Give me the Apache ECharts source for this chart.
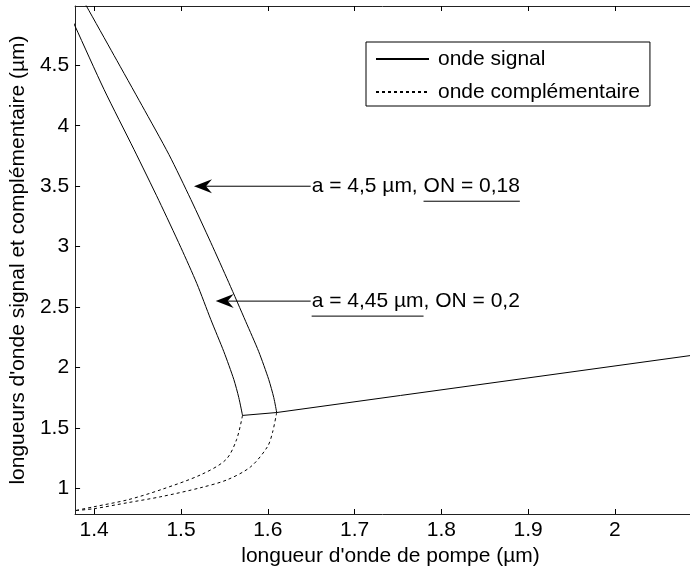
<!DOCTYPE html>
<html><head><meta charset="utf-8">
<script src="https://cdn.jsdelivr.net/npm/echarts@6/dist/echarts.min.js"></script>
<style>html,body{margin:0;padding:0;background:#fff}#c{width:690px;height:572px}</style>
</head><body><div id="c"></div>
<script>
// ---- data ----
const xTicks = [1.4, 1.5, 1.6, 1.7, 1.8, 1.9, 2.0];
const yTicks = [1, 1.5, 2, 2.5, 3, 3.5, 4, 4.5];
const signalA = [[1.3885,5.02],[1.3907,4.994],[1.4229,4.581],[1.4551,4.167],[1.4861,3.762],[1.5114,3.390],[1.5344,3.034],[1.5551,2.703],[1.5747,2.380],[1.5896,2.132],[1.6011,1.902],[1.6069,1.753],[1.6103,1.629]];
const signalB = [[1.3757,4.859],[1.378,4.823],[1.4114,4.299],[1.4459,3.803],[1.4746,3.381],[1.4999,2.993],[1.5183,2.695],[1.5344,2.397],[1.5494,2.132],[1.5609,1.902],[1.5666,1.753],[1.5709,1.605]];
const signalTail = [[1.5709,1.605],[1.6103,1.629],[1.753,1.770],[2.09,2.103]];
const idlerA = [[1.6103,1.629],[1.6054,1.462],[1.5997,1.347],[1.5804,1.181],[1.5536,1.074],[1.523,1.008],[1.4769,0.933],[1.439,0.884],[1.3998,0.834],[1.378,0.818]];
const idlerB = [[1.5709,1.605],[1.564,1.404],[1.5517,1.239],[1.523,1.115],[1.4769,0.991],[1.439,0.908],[1.3998,0.850],[1.378,0.818]];
const annotTexts = ['a = 4,5 µm, ON = 0,18', 'a = 4,45 µm, ON = 0,2'];
const arrowTips = [[1.515, 3.50], [1.540, 2.55]];
const arrowTailX = 1.6494;
const underlineRanges = [[12, 21], [0, 11]];
const xName = "longueur d'onde de pompe (µm)";
const yName = "longueurs d'onde signal et complémentaire (µm)";
const legendNames = ['onde signal', 'onde complémentaire'];

const FONT = 'Liberation Sans, Arial, sans-serif';
const FS = 21;
const chart = echarts.init(document.getElementById('c'), null, {renderer: 'canvas'});
const solid = {color: '#000', width: 1, type: 'solid'};
const dashed = {color: '#000', width: 1, type: [3, 3]};
function ser(name, data, ls, smooth) {
  return {type: 'line', name: name, data: data, showSymbol: false, symbol: 'none',
    smooth: smooth, lineStyle: ls, itemStyle: {color: '#000'}, animation: false, clip: true};
}
const axisCommon = {
  type: 'value', splitLine: {show: false},
  axisLine: {show: true, onZero: false, lineStyle: {color: '#222', width: 1}},
  axisTick: {show: true, inside: true, length: 5, lineStyle: {color: '#000'}},
};
const option = {
  backgroundColor: '#fff',
  animation: false,
  grid: {left: 74, right: 0, top: 6, bottom: 58, containLabel: false},
  legend: {
    show: true, orient: 'vertical', left: 366, top: 42,
    data: legendNames, itemWidth: 53, itemHeight: 14, itemGap: 11,
    padding: [6, 10, 3, 9], borderColor: '#000', borderWidth: 1, backgroundColor: '#fff',
    itemStyle: {opacity: 0},
    textStyle: {fontFamily: FONT, fontSize: FS, color: '#000', lineHeight: 22, padding: [0, 0, 0, 4]},
    selectedMode: false
  },
  xAxis: [
    Object.assign({}, axisCommon, {position: 'bottom', min: 1.378, max: 2.0865,
      axisTick: Object.assign({}, axisCommon.axisTick, {customValues: xTicks}),
      axisLabel: {customValues: xTicks, fontFamily: FONT, fontSize: FS, color: '#000', margin: 6},
      name: xName, nameLocation: 'middle', nameGap: 19,
      nameTextStyle: {fontFamily: FONT, fontSize: FS, color: '#000', padding: [0, 0, 0, 16]}}),
    Object.assign({}, axisCommon, {position: 'top', min: 1.378, max: 2.0865,
      axisTick: Object.assign({}, axisCommon.axisTick, {customValues: xTicks}),
      axisLabel: {show: false}})
  ],
  yAxis: [
    Object.assign({}, axisCommon, {position: 'left', min: 0.79, max: 4.99,
      axisTick: Object.assign({}, axisCommon.axisTick, {customValues: yTicks}),
      axisLabel: {customValues: yTicks, fontFamily: FONT, fontSize: FS, color: '#000', margin: 6},
      name: yName, nameLocation: 'middle', nameGap: 44,
      nameTextStyle: {fontFamily: FONT, fontSize: FS, color: '#000'}})
  ],
  series: [
    ser(legendNames[0], signalA, solid, 0.25),
    ser(legendNames[0], signalB, solid, 0.25),
    ser(legendNames[0], signalTail, solid, false),
    ser(legendNames[1], idlerA, dashed, 0.3),
    ser(legendNames[1], idlerB, dashed, 0.3)
  ]
};
chart.setOption(option);

// annotations anchored to data coordinates
function px(p) { return chart.convertToPixel({xAxisIndex: 0, yAxisIndex: 0}, p); }
const ctx = document.createElement('canvas').getContext('2d');
ctx.font = FS + 'px "Liberation Sans"';
const g = [];
annotTexts.forEach(function (t, i) {
  const tip = px(arrowTips[i]);
  const tail = px([arrowTailX, arrowTips[i][1]]);
  const L = 18, H = 7, N = 12;
  g.push({type: 'line', silent: true, shape: {x1: tail[0], y1: tail[1], x2: tip[0] + N, y2: tip[1]},
    style: {stroke: '#000', lineWidth: 1}});
  g.push({type: 'polygon', silent: true,
    shape: {points: [[tip[0], tip[1]], [tip[0] + L, tip[1] - H], [tip[0] + N, tip[1]], [tip[0] + L, tip[1] + H]]},
    style: {fill: '#000'}});
  const tx = tail[0] + 1;
  g.push({type: 'text', silent: true, x: tx, y: tail[1],
    style: {text: t, fontFamily: FONT, fontSize: FS, fill: '#000', verticalAlign: 'middle', align: 'left'}});
  const r = underlineRanges[i];
  const u0 = tx + ctx.measureText(t.slice(0, r[0])).width;
  const u1 = tx + ctx.measureText(t.slice(0, r[1])).width;
  g.push({type: 'line', silent: true, shape: {x1: u0, y1: tail[1] + 15, x2: u1, y2: tail[1] + 15},
    style: {stroke: '#000', lineWidth: 1}});
});
chart.setOption({graphic: g});
</script>
</body></html>
